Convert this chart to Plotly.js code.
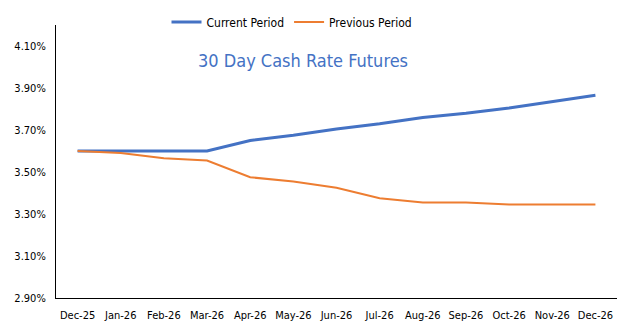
<!DOCTYPE html>
<html><head><meta charset="utf-8">
<script src="https://cdn.plot.ly/plotly-3.0.1.min.js"></script>
<style>html,body{margin:0;padding:0;background:#fff}#chart{width:617px;height:324px}</style>
</head><body><div id="chart"></div>
<script>
const months = ["Dec-25","Jan-26","Feb-26","Mar-26","Apr-26","May-26","Jun-26","Jul-26","Aug-26","Sep-26","Oct-26","Nov-26","Dec-26"];
const currentPeriod = [3.60,3.60,3.60,3.60,3.65,3.675,3.705,3.73,3.76,3.78,3.805,3.835,3.865];
const previousPeriod = [3.60,3.59,3.565,3.555,3.475,3.455,3.425,3.375,3.355,3.355,3.345,3.345,3.345];
const yTicks = [2.9,3.1,3.3,3.5,3.7,3.9,4.1];
const yTickLabels = yTicks.map(v => v.toFixed(2) + "%");

const font = "DejaVu Sans Condensed, DejaVu Sans, sans-serif";
const paperH = 298; // plot+top area in px (margin t = 0)
const traces = [
  {x: months, y: currentPeriod, name: "Current Period", type: "scatter", mode: "lines",
   line: {color: "#4472C4", width: 3}},
  {x: months, y: previousPeriod, name: "Previous Period", type: "scatter", mode: "lines",
   line: {color: "#ED7D31", width: 2}}
];
const layout = {
  width: 617, height: 324,
  margin: {l: 56, r: 0, t: 0, b: 26, autoexpand: false},
  paper_bgcolor: "#fff", plot_bgcolor: "#fff",
  font: {family: font, size: 11, color: "#000"},
  showlegend: true,
  legend: {orientation: "h", x: (292-56)/561, xanchor: "center", y: (paperH-22)/paperH, yanchor: "middle",
           font: {family: font, size: 12, color: "#000"}, bgcolor: "rgba(0,0,0,0)", itemwidth: 30},
  xaxis: {type: "category", range: [-0.5, 12.5], showgrid: false, showline: true, linecolor: "#000", linewidth: 1,
          ticks: "outside", ticklen: 7, tickcolor: "rgba(0,0,0,0)",
          tickfont: {family: font, size: 11, color: "#000"}, zeroline: false},
  yaxis: {range: [2.9, 4.2], domain: [0, (paperH-25)/paperH], tickvals: yTicks, ticktext: yTickLabels, showgrid: false,
          showline: true, linecolor: "#000", linewidth: 1, ticks: "outside", ticklen: 7,
          tickcolor: "rgba(0,0,0,0)", zeroline: false,
          tickfont: {family: font, size: 11, color: "#000"}},
  annotations: [{text: "30 Day Cash Rate Futures", xref: "paper", yref: "paper", x: (303-56)/561, y: (paperH-61)/paperH,
                 xanchor: "center", yanchor: "middle", showarrow: false,
                 font: {family: font, size: 18, color: "#4472C4"}}]
};
Plotly.newPlot("chart", traces, layout, {staticPlot: true, displayModeBar: false});
</script></body></html>
